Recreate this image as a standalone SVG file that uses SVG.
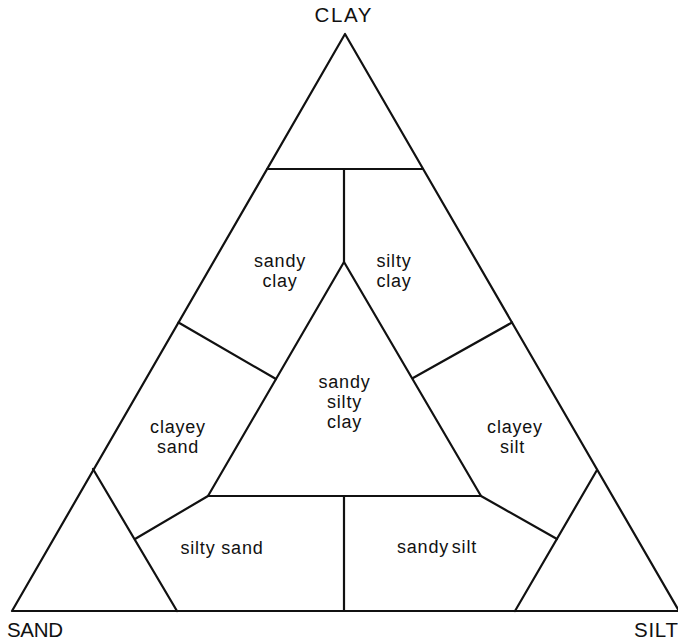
<svg xmlns="http://www.w3.org/2000/svg" width="678" height="640" viewBox="0 0 678 640">
<style>
.ln{stroke:#111;stroke-width:2.2;fill:none;stroke-linejoin:round;stroke-linecap:round}
.lbl{font-family:"Liberation Sans",Arial,sans-serif;font-size:18px;letter-spacing:0.8px;fill:#111;text-anchor:middle}
.vx{font-family:"Liberation Sans",Arial,sans-serif;font-size:20.5px;fill:#111}
</style>
<rect width="678" height="640" fill="#fff"/>
<g id="connectors">
<polygon class="ln" points="345,34 12,611 679,611"/>
<line class="ln" x1="267" y1="169" x2="423" y2="169"/>
<line class="ln" x1="344" y1="169" x2="344" y2="262"/>
<polygon class="ln" points="344,262 208,496 481,496"/>
<line class="ln" x1="178.5" y1="322.5" x2="276" y2="379"/>
<line class="ln" x1="413" y1="378" x2="512" y2="322.5"/>
<line class="ln" x1="93" y1="469" x2="177" y2="611"/>
<line class="ln" x1="135" y1="539" x2="208" y2="496"/>
<line class="ln" x1="597" y1="470" x2="515" y2="611"/>
<line class="ln" x1="557" y1="539" x2="481" y2="496"/>
<line class="ln" x1="344" y1="496" x2="344" y2="611"/>
</g>
<g id="vertex-clay"><text class="vx" x="343" y="22" text-anchor="middle" textLength="57">CLAY</text></g>
<g id="vertex-sand"><text class="vx" x="7" y="637" textLength="56">SAND</text></g>
<g id="vertex-silt"><text class="vx" x="634" y="637" textLength="44">SILT</text></g>
<g id="sandy-clay"><text class="lbl" x="280" y="267">sandy</text><text class="lbl" x="280" y="287">clay</text></g>
<g id="silty-clay"><text class="lbl" x="394" y="267">silty</text><text class="lbl" x="394" y="287">clay</text></g>
<g id="sandy-silty-clay"><text class="lbl" x="344.5" y="388">sandy</text><text class="lbl" x="344.5" y="408">silty</text><text class="lbl" x="344.5" y="428">clay</text></g>
<g id="clayey-sand"><text class="lbl" x="178" y="433">clayey</text><text class="lbl" x="178" y="453">sand</text></g>
<g id="clayey-silt"><text class="lbl" x="515" y="433">clayey</text><text class="lbl" x="512.5" y="453">silt</text></g>
<g id="silty-sand"><text class="lbl" x="222" y="554">silty sand</text></g>
<g id="sandy-silt"><text class="lbl" x="437" y="553" style="word-spacing:-3px">sandy silt</text></g>
</svg>
